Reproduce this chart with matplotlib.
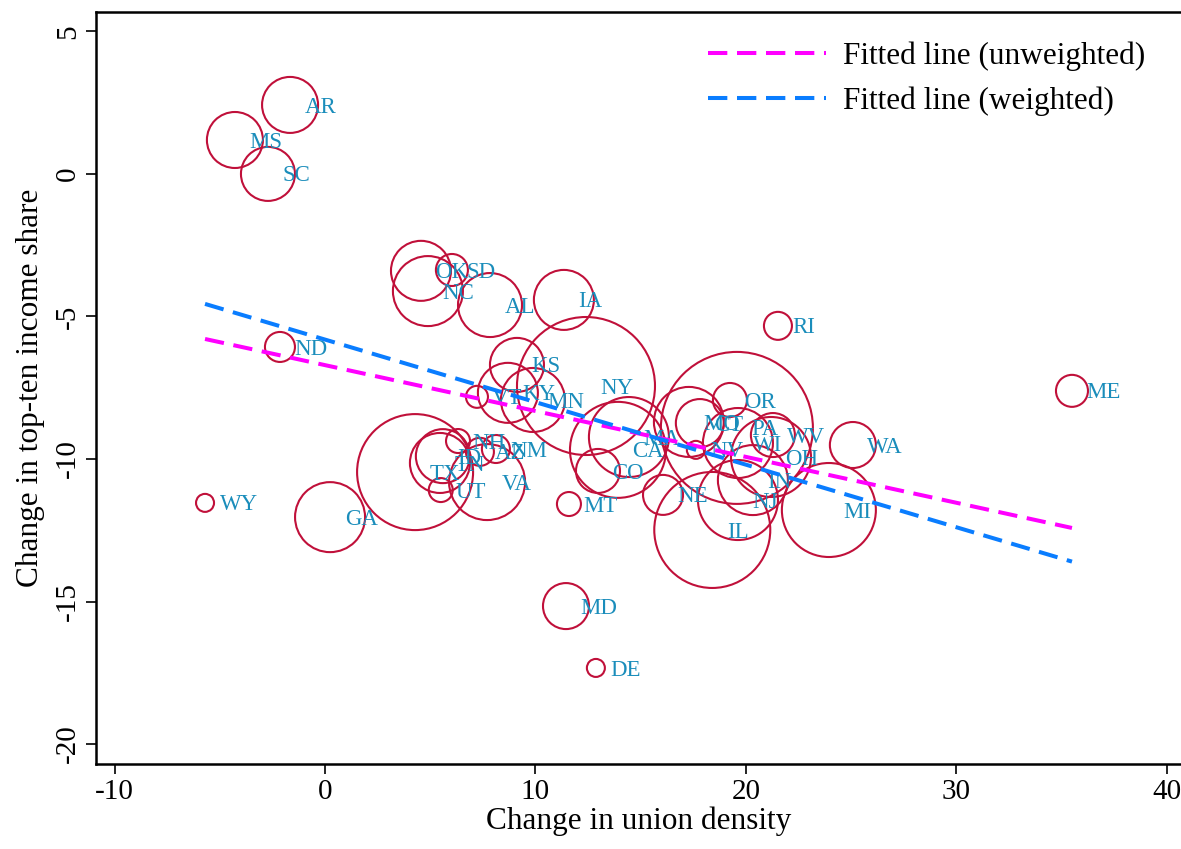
import numpy as np
import matplotlib
matplotlib.use("Agg")
import matplotlib.pyplot as plt

# state, change in union density, change in top-ten income share, weight
states = ["AR", "MS", "SC", "OK", "SD", "NC", "AL", "IA", "ND", "RI",
          "ME", "WY", "GA", "MD", "DE", "MT", "KS", "VT", "KY", "MN",
          "NY", "OR", "MO", "CT", "PA", "MA", "CA", "CO", "NE", "NV",
          "WI", "WV", "OH", "IN", "NJ", "IL", "MI", "WA", "TX", "UT",
          "VA", "NM", "NH", "AZ", "TN", "ID"]
union = [-1.66, -4.28, -2.71, 4.56, 6.03, 4.89, 7.84, 11.35, -2.14, 21.52,
         35.49, -5.70, 0.24, 11.45, 12.87, 11.59, 9.12, 7.22, 8.69, 9.88,
         12.40, 19.24, 17.29, 17.81, 19.57, 14.44, 13.92, 12.97, 16.06, 17.62,
         19.62, 21.28, 21.19, 20.33, 19.62, 18.40, 23.94, 25.08, 4.28, 5.50,
         7.70, 8.12, 6.32, 7.36, 5.46, 5.60]
topten = [2.42, 1.19, 0.00, -3.40, -3.37, -4.11, -4.60, -4.42, -6.07, -5.33,
          -7.61, -11.54, -12.04, -15.16, -17.33, -11.58, -6.70, -7.82, -7.68, -7.93,
          -7.44, -7.93, -8.70, -8.74, -8.91, -9.23, -9.68, -10.42, -11.26, -9.68,
          -9.44, -9.16, -9.93, -10.74, -11.44, -12.49, -11.79, -9.51, -10.46, -11.09,
          -10.81, -9.65, -9.37, -9.75, -10.14, -9.90]
weight = [28, 28, 27, 30, 16, 35, 32, 30, 15, 14,
          16, 9, 35, 23, 9, 12, 27, 11, 30, 32,
          69, 17, 35, 24, 76, 40, 48, 22, 20, 9,
          35, 22, 40, 35, 40, 58, 47, 23, 58, 12,
          38, 14, 12, 14, 30, 27]

# fitted lines (end points)
fit_x = [-5.70, 35.49]
fit_unweighted = [-5.79, -12.42]
fit_weighted = [-4.56, -13.60]

SERIF = "Liberation Serif"

fig = plt.figure(figsize=(11.81, 8.49), dpi=100)
ax = fig.add_axes([96 / 1181, 85 / 849, 1085 / 1181, 752 / 849])
plt.rcParams["font.family"] = [SERIF, "DejaVu Serif"]

# radius in pixels -> marker area in points^2
sizes = (2 * np.array(weight) * 0.72) ** 2
ax.scatter(union, topten, s=sizes, facecolors="none", edgecolors="#c0103a",
           linewidths=1.5, zorder=2)

for st, x, y in zip(states, union, topten):
    ax.annotate(st, (x, y), xytext=(10.5, -1.5), textcoords="offset points",
                ha="left", va="center", fontsize=16.5, color="#1a8dbb",
                family=SERIF, zorder=3)

ax.plot(fit_x, fit_unweighted, color="#ff00ff", lw=2.9, dashes=(4.8, 2.4),
        label="Fitted line (unweighted)", zorder=4)
ax.plot(fit_x, fit_weighted, color="#0a7dff", lw=2.9, dashes=(4.8, 2.4),
        label="Fitted line (weighted)", zorder=4)

ax.set_xlim(-10.88, 40.67)
ax.set_ylim(-20.7, 5.68)
ax.set_xticks([-10, 0, 10, 20, 30, 40])
ax.set_yticks([5, 0, -5, -10, -15, -20])
ax.set_xticklabels(["-10", "0", "10", "20", "30", "40"], family=SERIF, fontsize=21)
ax.set_yticklabels(["5", "0", "-5", "-10", "-15", "-20"], family=SERIF,
                   fontsize=21, rotation=90, va="center")
ax.tick_params(direction="out", length=7, width=1.2, pad=4)

ax.spines["right"].set_visible(False)
for s in ["left", "bottom", "top"]:
    ax.spines[s].set_linewidth(1.8)

ax.set_xlabel("Change in union density", family=SERIF, fontsize=22.5, labelpad=1)
ax.set_ylabel("Change in top-ten income share", family=SERIF, fontsize=22.5, labelpad=7)

leg = ax.legend(loc="upper right", frameon=False, prop={"family": SERIF, "size": 22.5},
                handlelength=3.8, handletextpad=0.55, labelspacing=0.5,
                borderaxespad=0, bbox_to_anchor=(0.979, 0.977))

fig.savefig("out.png", dpi=100)
